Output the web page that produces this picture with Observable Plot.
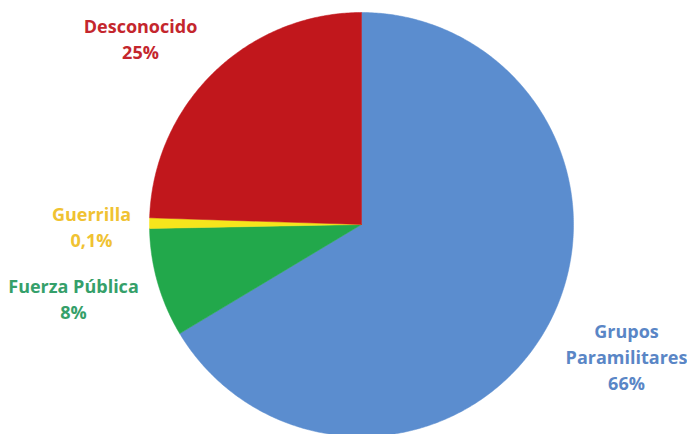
<!DOCTYPE html>
<html>
<head>
<meta charset="utf-8">
<script src="https://cdn.jsdelivr.net/npm/d3@7"></script>
<script src="https://cdn.jsdelivr.net/npm/@observablehq/plot@0.6"></script>
<style>
  html, body { margin: 0; padding: 0; background: #ffffff; }
  #chart svg { display: block; }
</style>
</head>
<body>
<div id="chart"></div>
<script>
// Data (clockwise from 12 o'clock)
const categories = ["Grupos Paramilitares", "Fuerza Pública", "Guerrilla", "Desconocido"];
const sliceValues = [66.4, 8.3, 0.8, 24.5];         // drawn slice sizes (%)
const labelTexts = ["Grupos\nParamilitares\n66%", "Fuerza Pública\n8%", "Guerrilla\n0,1%", "Desconocido\n25%"];
const sliceColors = ["#5b8dcf", "#22a84b", "#f6e51c", "#c1171c"];
const labelColors = ["#5a86c6", "#35a06a", "#f0c232", "#c4262d"];

// Layout (pixel-like units, pie centered at origin)
const W = 687, H = 434;
const cx = 361, cy = 224, R = 212;
const labelPos = [[265, -131], [-288, -73], [-270, -1], [-221, 187]];

const pie = d3.pie().sort(null).value(d => d.value);
const arcs = pie(categories.map((c, i) => ({category: c, value: sliceValues[i]})));

const polyPts = [];
arcs.forEach(a => {
  const c = a.data.category;
  polyPts.push({category: c, x: 0, y: 0});
  const n = Math.max(4, Math.ceil((a.endAngle - a.startAngle) / 0.01));
  for (let k = 0; k <= n; k++) {
    const t = a.startAngle + (a.endAngle - a.startAngle) * k / n;
    polyPts.push({category: c, x: R * Math.sin(t), y: R * Math.cos(t)});
  }
  polyPts.push({category: c, x: 0, y: 0});
});

const labels = categories.map((c, i) => ({
  category: c, text: labelTexts[i], x: labelPos[i][0], y: labelPos[i][1], color: labelColors[i]
}));

const chart = Plot.plot({
  width: W, height: H,
  margin: 0,
  x: {domain: [-cx, W - cx], axis: null},
  y: {domain: [cy - H, cy], axis: null},
  color: {domain: categories, range: sliceColors},
  style: {fontFamily: "'Open Sans', sans-serif", background: "#ffffff"},
  marks: [
    Plot.line(polyPts, {x: "x", y: "y", z: "category", fill: "category", stroke: "category", strokeWidth: 0.5, curve: "linear"}),
    Plot.text(labels, {x: "x", y: "y", text: "text", fill: d => d.color, fontSize: 18, fontWeight: "bold", lineHeight: 1.45, textAnchor: "middle"})
  ]
});
document.getElementById("chart").appendChild(chart);
</script>
</body>
</html>
